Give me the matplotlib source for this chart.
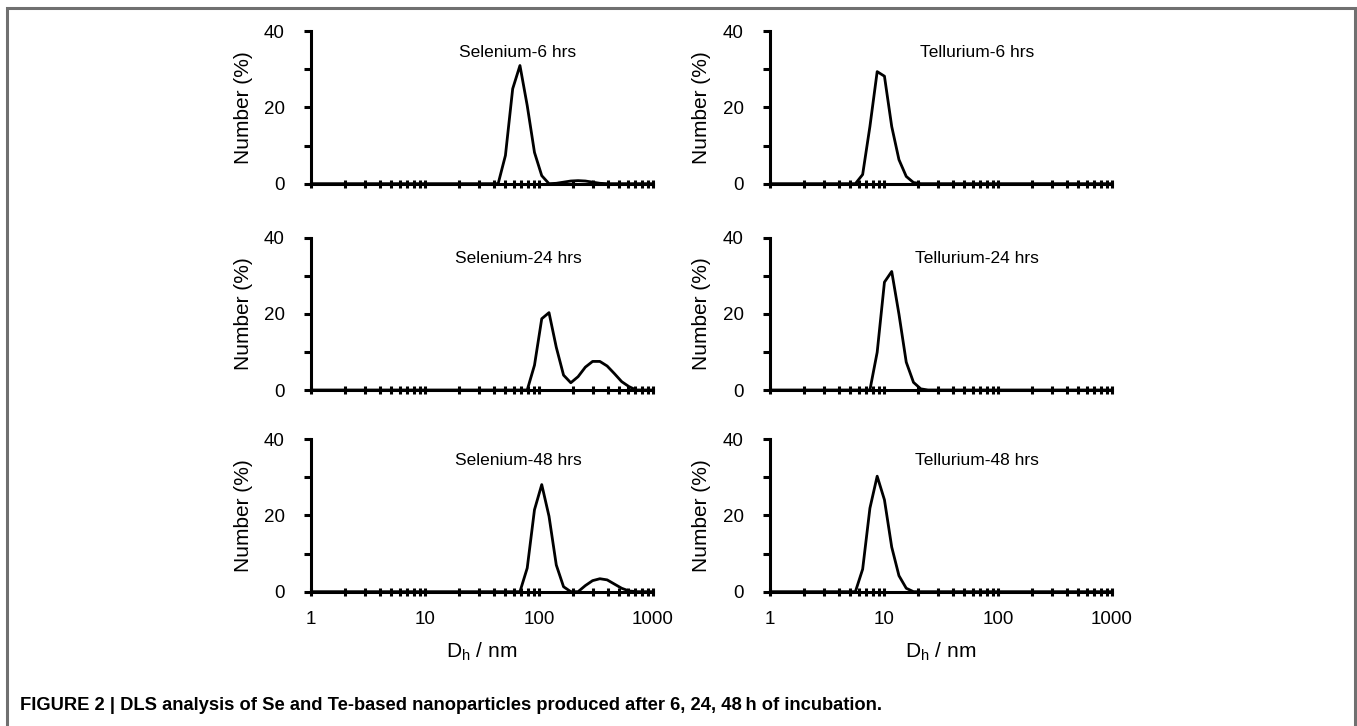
import matplotlib
matplotlib.use("Agg")
import matplotlib.pyplot as plt
from matplotlib.patches import Rectangle
from matplotlib.ticker import LogLocator, NullFormatter, FixedLocator

plt.rcParams['font.family'] = ['Liberation Sans', 'DejaVu Sans']

# DLS size bins (nm) and number distributions
se6_x = [1, 37.84, 43.82, 50.75, 58.77, 68.06, 78.82, 91.28, 105.7, 122.4, 141.8, 164.2,
         190.1, 220.2, 255.0, 295.3, 342.0, 396.1, 1000]
se6_y = [0, 0, 0, 7.4, 24.9, 31.0, 20.5, 8.2, 2.1, 0, 0.1, 0.4,
         0.7, 0.8, 0.7, 0.4, 0.1, 0, 0]

se24_x = [1, 78.82, 91.28, 105.7, 122.4, 141.8, 164.2, 190.1, 220.2, 255.0, 295.3, 342.0,
          396.1, 458.7, 531.2, 615.1, 712.4, 1000]
se24_y = [0, 0, 6.5, 18.7, 20.3, 11.2, 3.9, 1.9, 3.5, 6.0, 7.5, 7.5,
          6.3, 4.3, 2.2, 0.9, 0, 0]

se48_x = [1, 68.06, 78.82, 91.28, 105.7, 122.4, 141.8, 164.2, 190.1, 220.2, 255.0, 295.3,
          342.0, 396.1, 458.7, 531.2, 615.1, 712.4, 1000]
se48_y = [0, 0, 6.2, 21.5, 28.1, 19.8, 7.0, 1.3, 0, 0, 1.6, 2.9,
          3.4, 3.1, 2.0, 0.9, 0.2, 0, 0]

te6_x = [1, 5.615, 6.503, 7.531, 8.721, 10.1, 11.7, 13.54, 15.69, 18.17, 21.04, 1000]
te6_y = [0, 0, 2.4, 15.0, 29.4, 28.2, 15.0, 6.3, 1.9, 0.3, 0, 0]

te24_x = [1, 7.531, 8.721, 10.1, 11.7, 13.54, 15.69, 18.17, 21.04, 24.36, 1000]
te24_y = [0, 0, 9.9, 28.3, 31.1, 19.9, 7.3, 2.0, 0.3, 0, 0]

te48_x = [1, 5.615, 6.503, 7.531, 8.721, 10.1, 11.7, 13.54, 15.69, 18.17, 1000]
te48_y = [0, 0, 5.9, 21.9, 30.3, 24.1, 11.7, 4.2, 0.9, 0, 0]

titles = [["Selenium-6 hrs", "Tellurium-6 hrs"],
          ["Selenium-24 hrs", "Tellurium-24 hrs"],
          ["Selenium-48 hrs", "Tellurium-48 hrs"]]
series = [[(se6_x, se6_y), (te6_x, te6_y)],
          [(se24_x, se24_y), (te24_x, te24_y)],
          [(se48_x, se48_y), (te48_x, te48_y)]]
x_ticks = [1, 10, 100, 1000]
x_tick_labels = ["1", "10", "100", "1000"]
caption = "FIGURE 2 | DLS analysis of Se and Te-based nanoparticles produced after 6, 24, 48\u2009h of incubation."

fig = plt.figure(figsize=(13.57, 7.26), dpi=100)

# outer frame of the figure panel
fig.patches.append(Rectangle((7 / 1357, -0.05), 1348 / 1357, 1.05 - 8 / 726,
                             transform=fig.transFigure, fill=False,
                             edgecolor='#707070', lw=2.2, zorder=0))

lefts = [0.2292, 0.5674]
bottoms = [0.747, 0.4628, 0.185]
w, h = 0.252, 0.21

for r in range(3):
    for c in range(2):
        ax = fig.add_axes([lefts[c], bottoms[r], w, h])
        xs, ys = series[r][c]
        ax.plot(xs, ys, color='black', lw=2.0, clip_on=True)
        ax.set_xscale('log')
        ax.set_xlim(1, 1000)
        ax.set_ylim(0, 40)
        for s in ['top', 'right']:
            ax.spines[s].set_visible(False)
        for s in ['left', 'bottom']:
            ax.spines[s].set_linewidth(2.2)
        ax.xaxis.set_major_locator(FixedLocator(x_ticks))
        ax.xaxis.set_minor_locator(LogLocator(base=10, subs=range(2, 10)))
        ax.xaxis.set_minor_formatter(NullFormatter())
        ax.set_yticks([0, 20, 40])
        ax.yaxis.set_minor_locator(FixedLocator([10, 30]))
        ax.tick_params(axis='x', which='both', direction='inout', length=6, width=2.2)
        ax.tick_params(axis='y', which='both', direction='out', length=5, width=2.2,
                       labelsize=13.5, pad=14)
        if r == 2:
            ax.set_xticklabels(x_tick_labels)
            ax.tick_params(axis='x', labelsize=13.5, pad=11)
            ax.set_xlabel("D$_\\mathregular{h}$ / nm", fontsize=15, labelpad=9)
        else:
            ax.set_xticklabels([])
        ax.set_ylabel("Number (%)", fontsize=15, labelpad=8)
        ax.text(0.605, 0.86, titles[r][c], transform=ax.transAxes,
                ha='center', va='center', fontsize=12.5)

fig.text(20 / 1357, 1 - 706 / 726, caption, ha='left', va='center',
         fontsize=13.2, fontweight='bold')

fig.savefig("out.png", dpi=100)
